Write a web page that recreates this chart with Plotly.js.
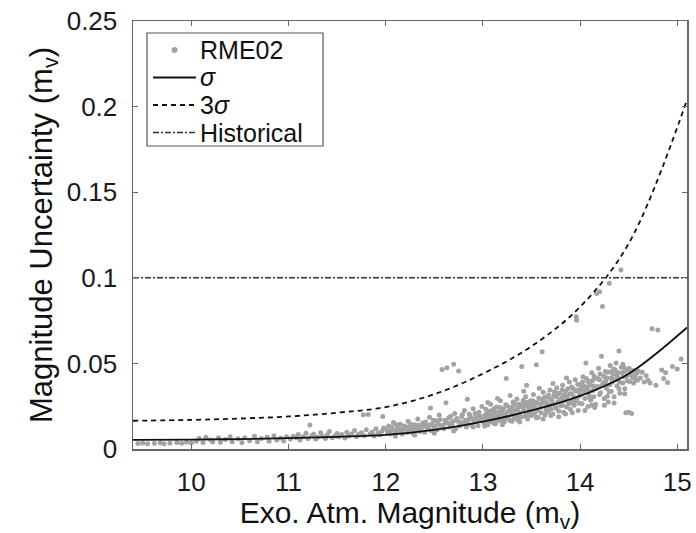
<!DOCTYPE html>
<html><head><meta charset="utf-8">
<script src="https://cdn.plot.ly/plotly-3.0.1.min.js"></script>
<style>body{margin:0;background:#fff}#chart{width:696px;height:533px}</style>
</head><body><div id="chart"></div>
<script>
// RME02 scatter
const rmeX = [
9.45,9.5,9.55,9.62,9.68,9.72,9.78,9.85,9.9,9.95,10.0,
10.05,10.08,10.12,10.15,10.2,10.22,10.28,10.3,10.35,10.4,10.42,10.48,10.52,10.55,10.6,10.65,10.68,10.72,10.78,10.8,10.85,10.88,10.92,10.95,10.98,
11.02,11.05,11.08,11.1,11.12,11.15,11.18,11.2,11.22,11.24,11.26,11.28,11.3,11.33,11.35,11.38,11.4,11.42,11.45,11.48,11.5,11.52,11.55,11.58,11.6,11.62,11.65,11.68,11.7,11.72,11.75,11.77,11.78,11.8,11.82,11.84,11.86,11.88,11.9,11.92,11.94,11.96,11.97,11.98,
12.02,12.03,12.05,12.07,12.08,12.1,12.12,12.13,12.15,12.17,12.18,12.2,12.22,12.23,12.25,12.27,12.28,12.3,12.32,12.33,12.35,12.37,12.38,12.4,12.42,12.43,12.45,12.47,12.48,12.5,12.52,12.53,12.55,12.57,12.58,12.6,12.62,12.63,12.65,12.66,12.68,12.7,12.71,12.72,12.74,12.75,12.76,12.78,12.8,12.81,12.83,12.85,12.86,12.88,12.9,12.91,12.93,12.95,12.96,12.98,12.99,
12.46,12.62,12.84,12.1,12.3,12.5,12.7,12.9,
12.01,12.04,12.06,12.09,12.11,12.14,12.16,12.19,12.21,12.24,12.26,12.29,12.31,12.34,12.36,12.39,12.41,12.44,12.46,12.49,12.51,12.54,12.56,12.59,12.61,12.64,12.67,12.69,12.73,12.77,12.79,12.82,12.84,12.87,12.89,12.92,12.94,12.97,
13.01,13.02,13.03,13.04,13.05,13.06,13.07,13.08,13.09,13.1,13.11,13.12,13.13,13.14,13.15,13.16,13.17,13.18,13.19,13.2,13.21,13.22,13.23,13.24,13.25,13.26,13.27,13.28,13.29,13.3,13.31,13.32,13.33,13.34,13.35,13.36,13.37,13.38,13.39,13.4,13.41,13.42,13.43,13.44,13.45,13.46,13.47,13.48,13.49,13.5,13.51,13.52,13.53,13.54,13.55,13.56,13.57,13.58,13.59,13.6,13.61,13.62,13.63,13.64,13.65,13.66,13.67,13.68,13.69,13.7,13.71,13.72,13.73,13.74,13.75,13.76,13.77,13.78,13.79,13.8,13.81,13.82,13.83,13.84,13.85,13.86,13.87,13.88,13.89,13.9,13.91,13.92,13.93,13.94,13.95,13.96,13.965,13.97,13.98,13.99,
13.02,13.12,13.2,13.3,13.38,13.46,13.55,13.62,13.7,13.78,13.85,13.92,13.98,13.05,13.15,13.28,13.42,13.58,13.72,13.86,
13.015,13.035,13.055,13.075,13.095,13.115,13.135,13.155,13.175,13.195,13.215,13.235,13.255,13.275,13.295,13.315,13.335,13.355,13.375,13.395,13.415,13.435,13.455,13.475,13.495,13.515,13.535,13.555,13.575,13.595,13.615,13.635,13.655,13.675,13.695,13.715,13.735,13.755,13.775,13.795,13.815,13.835,13.855,13.875,13.895,13.915,13.935,13.955,13.975,13.995,
13.05,13.15,13.25,13.35,13.45,13.5,13.65,13.75,13.82,13.9,13.95,
14.0,14.01,14.02,14.03,14.04,14.05,14.06,14.07,14.08,14.09,14.1,14.11,14.12,14.13,14.14,14.15,14.16,14.17,14.18,14.19,14.2,14.21,14.22,14.23,14.24,14.25,14.26,14.27,14.28,14.29,14.3,14.31,14.32,14.33,14.34,14.35,14.36,14.37,14.38,14.39,14.4,14.41,14.42,14.43,14.44,14.45,14.46,14.47,14.48,14.49,14.5,14.51,14.52,14.53,14.54,14.55,14.57,14.59,14.6,
14.02,14.08,14.14,14.2,14.26,14.32,14.38,14.44,14.05,14.15,14.25,14.35,
14.005,14.025,14.045,14.065,14.085,14.105,14.125,14.145,14.165,14.185,14.205,14.225,14.245,14.265,14.285,14.305,14.325,14.345,14.365,14.385,14.405,14.425,14.445,14.465,14.485,14.505,14.525,14.545,14.565,14.585,14.1,14.2,14.3,14.4,14.12,14.28,14.46,
14.62,14.64,14.66,14.68,14.7,14.74,14.78,14.8,14.84,14.88,14.9,14.95,15.0,15.04,14.86,14.72
];
const rmeY = [
0.0032,0.0035,0.003,0.0034,0.0036,0.0031,0.0035,0.0038,0.0033,0.004,0.0036,
0.0045,0.0062,0.0038,0.0068,0.0052,0.0041,0.0066,0.0039,0.0055,0.0072,0.0043,0.006,0.0038,0.0066,0.0048,0.0074,0.0042,0.0061,0.0068,0.0045,0.0078,0.0052,0.0064,0.0047,0.0071,
0.0058,0.0075,0.0066,0.0085,0.0052,0.0072,0.0092,0.0062,0.014,0.0078,0.0088,0.0058,0.0069,0.0095,0.0074,0.0062,0.0083,0.0102,0.0066,0.0078,0.0091,0.0071,0.0085,0.0064,0.0098,0.0076,0.0088,0.0108,0.0072,0.0084,0.0095,0.02,0.0078,0.0112,0.0201,0.0088,0.0099,0.0076,0.0118,0.0092,0.0083,0.0104,0.019,0.0122,
0.0095,0.0135,0.0088,0.0112,0.0155,0.0092,0.0125,0.0102,0.0145,0.0088,0.0118,0.0132,0.0096,0.0162,0.0108,0.0122,0.0091,0.0142,0.0115,0.0175,0.0102,0.0128,0.0152,0.0098,0.0138,0.0118,0.0185,0.0106,0.0145,0.0125,0.0165,0.0112,0.0198,0.0135,0.0465,0.0118,0.0155,0.0475,0.0182,0.0128,0.0142,0.0495,0.0208,0.0119,0.0162,0.0455,0.0135,0.0188,0.0148,0.0225,0.0128,0.0172,0.0205,0.0142,0.0235,0.0158,0.0188,0.0136,0.0215,0.0168,0.0248,
0.024,0.027,0.029,0.0075,0.0082,0.0092,0.0105,0.0128,
0.0112,0.0102,0.0128,0.0108,0.0142,0.0118,0.0098,0.0135,0.0112,0.0128,0.0145,0.0108,0.0125,0.0138,0.0115,0.0132,0.0158,0.0122,0.0142,0.0168,0.0132,0.0148,0.0172,0.0138,0.0168,0.0152,0.0192,0.0162,0.0178,0.0158,0.0202,0.0168,0.0152,0.0192,0.0175,0.0208,0.0165,0.0192,
0.0152,0.0195,0.0232,0.0168,0.0142,0.0212,0.0185,0.0262,0.0158,0.0225,0.0175,0.0198,0.0148,0.0245,0.0188,0.0215,0.0165,0.0282,0.0205,0.0178,0.0235,0.0158,0.0198,0.0412,0.0252,0.0185,0.0218,0.0165,0.0238,0.0202,0.0275,0.0178,0.0225,0.0195,0.0292,0.0168,0.0245,0.0212,0.0185,0.0482,0.0265,0.0228,0.0192,0.0305,0.0372,0.0175,0.0248,0.0215,0.0282,0.0195,0.0235,0.0318,0.0205,0.0262,0.0492,0.0225,0.0185,0.0295,0.0242,0.0212,0.0568,0.0332,0.0268,0.0198,0.0238,0.0302,0.0218,0.0255,0.0345,0.0232,0.0285,0.0205,0.0312,0.0262,0.0238,0.0358,0.0275,0.0222,0.0325,0.0252,0.0298,0.0372,0.0215,0.0285,0.0338,0.0245,0.0308,0.0265,0.0392,0.0232,0.0322,0.0285,0.0352,0.0255,0.0405,0.0772,0.0752,0.0298,0.0345,0.0268,
0.0135,0.0148,0.0142,0.0162,0.0158,0.0198,0.0182,0.0175,0.0195,0.0188,0.0205,0.0212,0.0225,0.0272,0.0295,0.0312,0.0338,0.0355,0.0382,0.0415,
0.0178,0.0205,0.0188,0.0222,0.0195,0.0235,0.0212,0.0198,0.0242,0.0222,0.0205,0.0258,0.0218,0.0242,0.0225,0.0252,0.0265,0.0232,0.0262,0.0248,0.0285,0.0252,0.0272,0.0232,0.0262,0.0282,0.0248,0.0272,0.0298,0.0265,0.0288,0.0302,0.0272,0.0315,0.0292,0.0262,0.0335,0.0305,0.0325,0.0288,0.0345,0.0315,0.0298,0.0352,0.0322,0.0362,0.0305,0.0338,0.0378,0.0322,
0.0162,0.0172,0.0178,0.0185,0.0205,0.0212,0.0225,0.0245,0.0255,0.0268,0.0282,
0.0312,0.0375,0.0265,0.0422,0.0338,0.0295,0.0502,0.0362,0.0248,0.0318,0.0395,0.0285,0.0445,0.0342,0.0305,0.0412,0.0262,0.0908,0.0365,0.0472,0.0918,0.0328,0.0542,0.0832,0.0385,0.0295,0.0452,0.0355,0.0415,0.0275,0.0968,0.0488,0.0338,0.0392,0.0435,0.0305,0.0462,0.0502,0.0368,0.0418,0.0572,0.0325,0.1045,0.0445,0.0385,0.0478,0.0352,0.0212,0.0425,0.0465,0.0215,0.0395,0.0448,0.0208,0.0418,0.0385,0.0432,0.0402,0.0455,
0.0352,0.0395,0.0368,0.0405,0.0382,0.0452,0.0432,0.0495,0.0225,0.0242,0.0255,0.0268,
0.0348,0.0392,0.0365,0.0412,0.0342,0.0372,0.0398,0.0425,0.0355,0.0412,0.0438,0.0372,0.0425,0.0402,0.0448,0.0375,0.0415,0.0468,0.0405,0.0448,0.0392,0.0478,0.0422,0.0452,0.0398,0.0472,0.0432,0.0458,0.0412,0.0445,0.0298,0.0318,0.0335,0.0352,0.0255,0.0308,0.0322,
0.0415,0.0448,0.0392,0.0428,0.0402,0.0702,0.0372,0.0695,0.0462,0.0445,0.0388,0.0482,0.0468,0.0525,0.0412,0.0385
];
// sigma and 3 sigma curves
const curveX   = [9.4, 10, 10.5, 11, 11.5, 12, 12.5, 13, 13.5, 14, 14.5, 15.1];
const sigmaY   = [0.0053,0.0055,0.0058,0.0063,0.0071,0.0083,0.0112,0.0160,0.0225,0.0310,0.0440,0.0710];
const sigma3Y  = [0.0165,0.0170,0.0178,0.0190,0.0212,0.0245,0.0320,0.0440,0.0600,0.0830,0.1200,0.2040];
// Historical threshold
const histX = [9.4, 15.1];
const histY = [0.1, 0.1];
const xTicks = [10, 11, 12, 13, 14, 15];
const yTicks = [0, 0.05, 0.1, 0.15, 0.2, 0.25];
const yTickText = ['0', '0.05', '0.1', '0.15', '0.2', '0.25'];
const legendNames = ['RME02', '<i>σ</i>', '3<i>σ</i>', 'Historical'];

const F = 'Liberation Sans, Arial, Helvetica, sans-serif';
const DOT = '#a3a3a3';
const styles = [
  null,
  {color: '#111', width: 1.8, dash: 'solid'},
  {color: '#111', width: 1.8, dash: '5px,4px'},
  {color: '#333', width: 1.6, dash: '6px,2px,2px,2px'}
];
const traces = [
  {x: rmeX, y: rmeY, mode: 'markers', type: 'scatter', name: legendNames[0],
   marker: {color: DOT, size: 5, line: {width: 0}}},
  {x: curveX, y: sigmaY, mode: 'lines', type: 'scatter', name: legendNames[1],
   line: Object.assign({shape: 'spline'}, styles[1])},
  {x: curveX, y: sigma3Y, mode: 'lines', type: 'scatter', name: legendNames[2],
   line: Object.assign({shape: 'spline'}, styles[2])},
  {x: histX, y: histY, mode: 'lines', type: 'scatter', name: legendNames[3],
   line: styles[3]}
];

// legend drawn in plot-area pixel geometry (plot: l=133, t=21, w=554, h=428)
const PW = 554, PH = 428, PL = 133, PT = 21;
const px = v => (v - PL) / PW;
const py = v => (PT + PH - v) / PH;
const rowY = [50, 77.5, 105, 132.5];
const shapes = [
  {type: 'rect', xref: 'paper', yref: 'paper', x0: px(147), x1: px(323), y0: py(146), y1: py(33),
   line: {color: '#555', width: 1.2}, fillcolor: '#fff', layer: 'above'}
];
const annotations = [];
legendNames.forEach((nm, i) => {
  if (i === 0) {
    shapes.push({type: 'circle', xref: 'paper', yref: 'paper',
      x0: px(171.5), x1: px(177.5), y0: py(rowY[i] + 3), y1: py(rowY[i] - 3),
      fillcolor: DOT, line: {width: 0}, layer: 'above'});
  } else {
    shapes.push({type: 'line', xref: 'paper', yref: 'paper',
      x0: px(153), x1: px(196), y0: py(rowY[i]), y1: py(rowY[i]),
      line: styles[i], layer: 'above'});
  }
  annotations.push({xref: 'paper', yref: 'paper', x: px(199), y: py(rowY[i]),
    xanchor: 'left', yanchor: 'middle', showarrow: false, text: nm,
    height: 26, borderpad: 0, valign: 'middle',
    font: {family: F, size: 25, color: '#111'}});
});

const axCommon = {
  showline: true, mirror: 'ticks', linecolor: '#666', linewidth: 1.5,
  ticks: 'inside', ticklen: 5, tickcolor: '#666', tickwidth: 1,
  showgrid: false, zeroline: false,
  tickfont: {family: F, size: 26, color: '#1a1a1a'}
};
const layout = {
  width: 696, height: 533,
  margin: {l: 133, r: 9, t: 21, b: 84},
  paper_bgcolor: '#fff', plot_bgcolor: '#fff',
  showlegend: false,
  shapes: shapes, annotations: annotations,
  xaxis: Object.assign({}, axCommon, {
    range: [9.4, 15.1], tickvals: xTicks, ticktext: xTicks.map(String),
    ticklabelstandoff: 9,
    title: {text: 'Exo. Atm. Magnitude (m<sub>v</sub>)', font: {family: F, size: 30, color: '#111'}, standoff: 3}
  }),
  yaxis: Object.assign({}, axCommon, {
    range: [0, 0.25], tickvals: yTicks, ticktext: yTickText,
    ticklabelstandoff: 9,
    title: {text: 'Magnitude Uncertainty (m<sub>v</sub>)', font: {family: F, size: 31, color: '#111'}, standoff: 5}
  })
};
Plotly.newPlot('chart', traces, layout, {displayModeBar: false, staticPlot: true});
</script>
</body></html>
